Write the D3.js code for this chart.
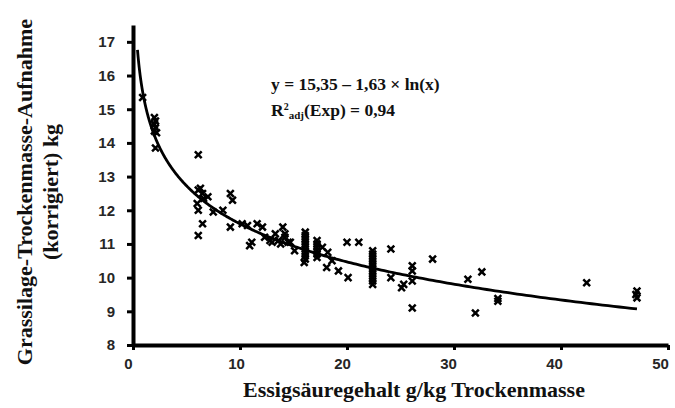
<!DOCTYPE html>
<html>
<head>
<meta charset="utf-8">
<script src="https://cdn.jsdelivr.net/npm/d3@7"></script>
<style>
  body { margin: 0; background: #fff; }
  svg { display: block; }
</style>
</head>
<body>
<svg id="chart" width="675" height="408"></svg>
<script>
// Acetic acid content (g/kg DM) vs. corrected grass silage DM intake (kg)
const aceticAcid = [
  0.9,
  2.0, 2.1, 2.0, 2.1, 2.0, 2.2, 2.1,
  6.1,
  6.1, 6.3, 6.5, 7.0, 6.6, 6.0, 6.1, 7.5, 8.4, 9.1, 9.3, 6.5, 6.1, 9.1,
  10.2, 10.7, 11.6, 12.1, 11.1, 10.9, 12.3, 13.3, 14.0, 14.2, 13.0, 13.6,
  14.5, 14.2, 14.7, 15.1, 12.8, 13.8,
  16.1, 16.1, 16.1, 16.1, 16.1, 16.1, 16.1, 16.1, 16.1, 16.0,
  17.2, 17.2, 17.2, 17.2, 17.2, 17.2, 17.7,
  18.2, 18.1, 19.2, 20.1, 20.0, 21.1, 18.6,
  22.4, 22.4, 22.4, 22.4, 22.4, 22.4, 22.4, 22.4, 22.4, 22.4, 22.4,
  24.1, 24.1, 25.1, 25.3, 26.1, 26.1, 26.1, 26.1, 28.0,
  31.3, 32.0, 32.6, 34.1, 34.1, 42.4, 47.1, 47.1, 47.0
];
const dmIntake = [
  15.35,
  14.75, 14.65, 14.55, 14.45, 14.35, 14.3, 13.85,
  13.65,
  12.6, 12.65, 12.5, 12.4, 12.35, 12.2, 12.0, 11.95, 12.0, 12.5, 12.3, 11.6, 11.25, 11.5,
  11.6, 11.55, 11.6, 11.5, 11.05, 10.95, 11.2, 11.3, 11.5, 11.2, 11.05, 11.1,
  11.05, 11.3, 11.05, 10.8, 11.1, 11.0,
  11.35, 11.25, 11.15, 11.05, 10.95, 10.85, 10.75, 10.65, 10.55, 10.45,
  11.1, 11.0, 10.9, 10.8, 10.7, 10.6, 10.9,
  10.75, 10.3, 10.2, 10.0, 11.05, 11.05, 10.5,
  10.8, 10.7, 10.6, 10.5, 10.4, 10.3, 10.2, 10.1, 10.0, 9.9, 9.8,
  10.85, 10.0, 9.7, 9.8, 10.35, 10.2, 9.9, 9.1, 10.55,
  9.95, 8.95, 10.17, 9.3, 9.38, 9.85, 9.6, 9.4, 9.5
];

// Logarithmic fit: y = a - b * ln(x)
const fitA = 15.35;
const fitB = 1.63;
const fitRange = [0.42, 47.1];

const xTicks = [0, 10, 20, 30, 40, 50];
const yTicks = [8, 9, 10, 11, 12, 13, 14, 15, 16, 17];

const svg = d3.select("#chart");

const x = d3.scaleLinear().domain([0, 50]).range([133, 668]);
const y = d3.scaleLinear().domain([8, 17.5]).range([345, 25]);

// Axes
const yAxis = svg.append("g")
  .attr("transform", `translate(${x(0)},0)`)
  .call(d3.axisLeft(y).tickValues(yTicks).tickSize(6).tickSizeOuter(0).tickPadding(12));
const xAxis = svg.append("g")
  .attr("transform", `translate(0,${y(8)})`)
  .call(d3.axisBottom(x).tickValues(xTicks).tickSize(5).tickSizeOuter(0).tickPadding(8));

[yAxis, xAxis].forEach(g => {
  g.select(".domain").attr("stroke", "#000").attr("stroke-width", 4);
  g.selectAll(".tick line").attr("stroke", "#000").attr("stroke-width", 3);
  g.selectAll(".tick text")
    .attr("fill", "#262626")
    .style("font-family", "'Liberation Sans', Arial, sans-serif")
    .style("font-weight", "bold")
    .style("font-size", "15px");
});
// nudge x labels slightly left so the last one stays inside the page
xAxis.selectAll(".tick text").attr("dx", d => d === 0 ? -5 : -3 - d / 10);

// Fitted curve
const curvePts = d3.range(0, 401).map(i => {
  const t = i / 400;
  const xv = fitRange[0] * Math.pow(fitRange[1] / fitRange[0], t);
  return [xv, fitA - fitB * Math.log(xv)];
});
svg.append("path")
  .datum(curvePts)
  .attr("fill", "none")
  .attr("stroke", "#000")
  .attr("stroke-width", 2.8)
  .attr("d", d3.line().x(d => x(d[0])).y(d => y(d[1])));

// Data markers (×)
const s = 3.4;
svg.append("g").selectAll("path")
  .data(aceticAcid.map((v, i) => [v, dmIntake[i]]))
  .join("path")
  .attr("transform", d => `translate(${x(d[0])},${y(d[1])})`)
  .attr("d", `M${-s},${-s}L${s},${s}M${-s},${s}L${s},${-s}`)
  .attr("stroke", "#000")
  .attr("stroke-width", 2.5)
  .attr("fill", "none");

// Equation
const serif = "'Liberation Serif', 'Times New Roman', serif";
const eq = svg.append("g")
  .style("font-family", serif)
  .style("font-weight", "bold")
  .style("font-size", "17.5px")
  .attr("fill", "#111");
eq.append("text").attr("x", 271).attr("y", 90).text("y = 15,35 – 1,63 × ln(x)");
const r2 = eq.append("text").attr("x", 271).attr("y", 116);
r2.append("tspan").text("R");
r2.append("tspan").attr("dy", -6).style("font-size", "10px").text("2");
r2.append("tspan").attr("dy", 9).style("font-size", "11px").text("adj");
r2.append("tspan").attr("dy", -3).text("(Exp) = 0,94");

// Axis titles
svg.append("text")
  .attr("x", 414).attr("y", 397)
  .attr("text-anchor", "middle")
  .style("font-family", serif).style("font-weight", "bold").style("font-size", "22px")
  .attr("fill", "#111")
  .text("Essigsäuregehalt g/kg Trockenmasse");

const yt = svg.append("text")
  .attr("transform", "translate(32,192) rotate(-90)")
  .attr("text-anchor", "middle")
  .style("font-family", serif).style("font-weight", "bold").style("font-size", "22px")
  .attr("fill", "#111");
yt.append("tspan").attr("x", 0).attr("y", 0).text("Grassilage-Trockenmasse-Aufnahme");
yt.append("tspan").attr("x", 0).attr("y", 26).text("(korrigiert) kg");
</script>
</body>
</html>
